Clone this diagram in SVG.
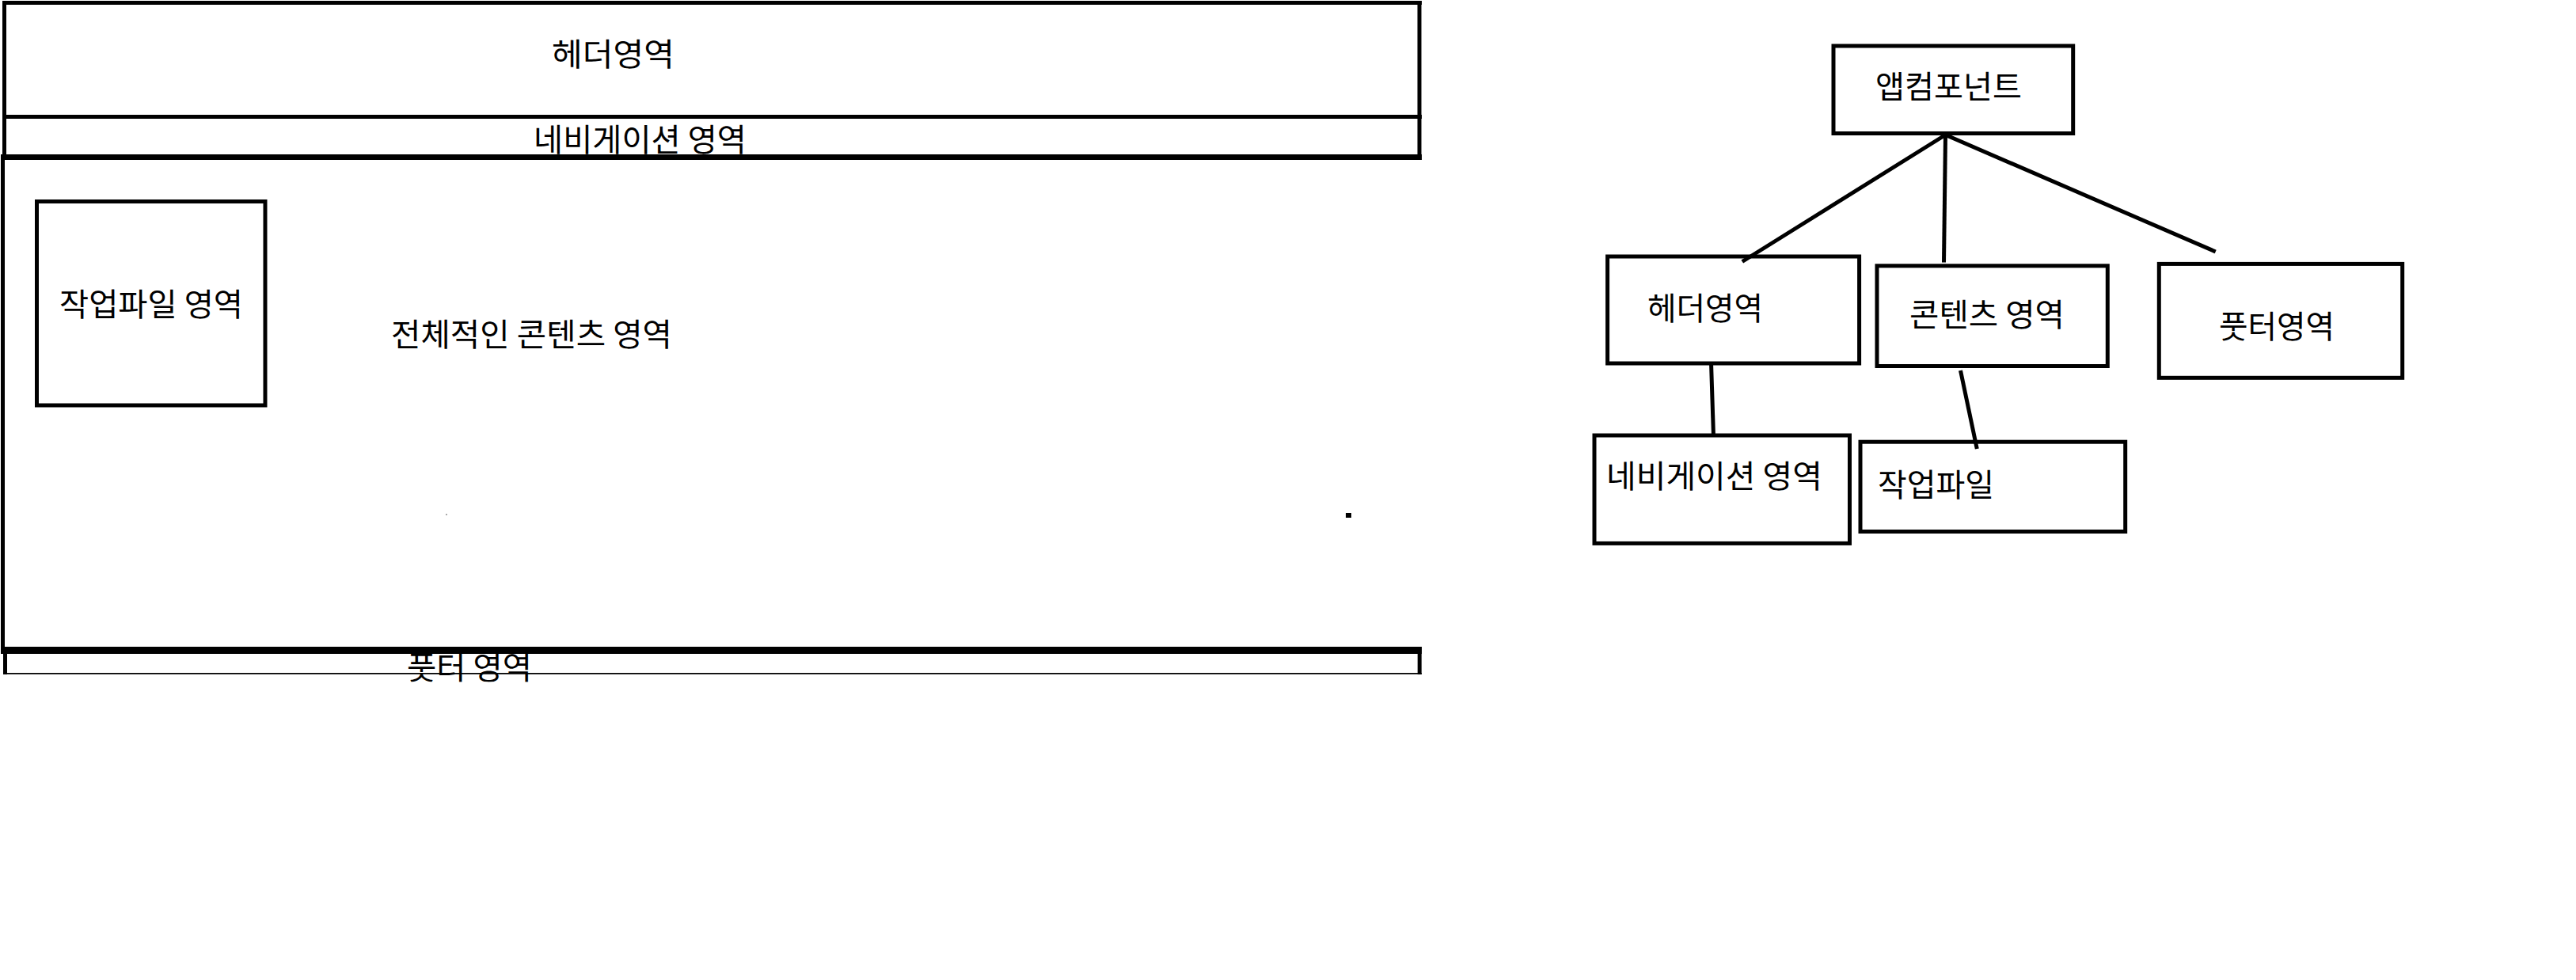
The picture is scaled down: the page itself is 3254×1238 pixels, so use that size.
<svg xmlns="http://www.w3.org/2000/svg" width="3254" height="1238" viewBox="0 0 3254 1238">
<style>
  .ln { stroke:#000; fill:none; stroke-linecap:butt; }
  .bx { stroke:#000; stroke-width:5; fill:none; }
  .t { font-family:"Noto Sans CJK KR","Noto Sans",sans-serif; font-size:40px; fill:#000; }
  .c { stroke:#000; stroke-width:5; fill:none; stroke-linecap:butt; }
</style>
<defs>
  <clipPath id="footClip"><rect x="0" y="820" width="1800" height="41.5"/></clipPath>
</defs>
<rect x="0" y="0" width="3254" height="1238" fill="#fff"/>

<!-- Left: page layout wireframe -->
<g id="layout-header">
  <line class="ln" stroke-width="5" x1="3" y1="3.5" x2="1796" y2="3.5"/>
  <line class="ln" stroke-width="5" x1="5.5" y1="1" x2="5.5" y2="196"/>
  <line class="ln" stroke-width="5" x1="1793" y1="1" x2="1793" y2="202"/>
  <line class="ln" stroke-width="5" x1="3" y1="147.5" x2="1796" y2="147.5"/>
  <text class="t" x="697" y="83" textLength="155" lengthAdjust="spacingAndGlyphs">헤더영역</text>
</g>
<g id="layout-nav">
  <text class="t" x="674" y="191" textLength="269" lengthAdjust="spacingAndGlyphs">네비게이션 영역</text>
</g>
<g id="layout-content">
  <line class="ln" stroke-width="7" x1="1" y1="198.5" x2="1796" y2="198.5"/>
  <line class="ln" stroke-width="5" x1="3.5" y1="195" x2="3.5" y2="822"/>
  <line class="ln" stroke-width="9" x1="1" y1="821.5" x2="1796" y2="821.5"/>
  <text class="t" x="494" y="437" textLength="355" lengthAdjust="spacingAndGlyphs">전체적인 콘텐츠 영역</text>
  <rect x="563" y="649" width="2" height="2" fill="#aaa"/>
  <rect x="1700" y="648" width="7" height="6" fill="#000"/>
</g>
<g id="layout-workfile">
  <rect class="bx" x="46.5" y="254.5" width="288.5" height="257.5"/>
  <text class="t" x="75" y="398.5" textLength="232" lengthAdjust="spacingAndGlyphs">작업파일 영역</text>
</g>
<g id="layout-footer">
  <line class="ln" stroke-width="5" x1="6.5" y1="825" x2="6.5" y2="852"/>
  <line class="ln" stroke-width="5" x1="1793.2" y1="825" x2="1793.2" y2="852"/>
  <line class="ln" stroke-width="1.8" x1="4" y1="850.8" x2="1796" y2="850.8"/>
  <text class="t" x="514" y="858" textLength="158" lengthAdjust="spacingAndGlyphs" clip-path="url(#footClip)">풋터 영역</text>
</g>

<!-- Right: component tree -->
<g id="connectors">
  <line class="c" x1="2456.5" y1="171" x2="2200.8" y2="330.5"/>
  <line class="c" x1="2457.5" y1="171" x2="2455.5" y2="331.5"/>
  <line class="c" x1="2459" y1="171" x2="2798.7" y2="318"/>
  <line class="c" x1="2161.6" y1="461" x2="2164.4" y2="548"/>
  <line class="c" x1="2476.5" y1="468" x2="2497.3" y2="567"/>
</g>
<g id="node-app">
  <rect class="bx" x="2316" y="58" width="302.7" height="110.5"/>
  <text class="t" x="2369" y="123.7" textLength="185" lengthAdjust="spacingAndGlyphs">앱컴포넌트</text>
</g>
<g id="node-header">
  <rect class="bx" x="2030.6" y="324" width="318" height="135"/>
  <text class="t" x="2081" y="403.7" textLength="146" lengthAdjust="spacingAndGlyphs">헤더영역</text>
</g>
<g id="node-content">
  <rect class="bx" x="2371" y="335.8" width="291.3" height="126.7"/>
  <text class="t" x="2412" y="412" textLength="196" lengthAdjust="spacingAndGlyphs">콘텐츠 영역</text>
</g>
<g id="node-footer">
  <rect class="bx" x="2727.3" y="333.4" width="307.4" height="143.9"/>
  <text class="t" x="2803" y="427.3" textLength="146" lengthAdjust="spacingAndGlyphs">풋터영역</text>
</g>
<g id="node-nav">
  <rect class="bx" x="2014" y="550" width="322.5" height="136.4"/>
  <text class="t" x="2029" y="616.4" textLength="273" lengthAdjust="spacingAndGlyphs">네비게이션 영역</text>
</g>
<g id="node-workfile">
  <rect class="bx" x="2350" y="558.2" width="334.7" height="113.3"/>
  <text class="t" x="2372" y="627.4" textLength="147" lengthAdjust="spacingAndGlyphs">작업파일</text>
</g>
</svg>
